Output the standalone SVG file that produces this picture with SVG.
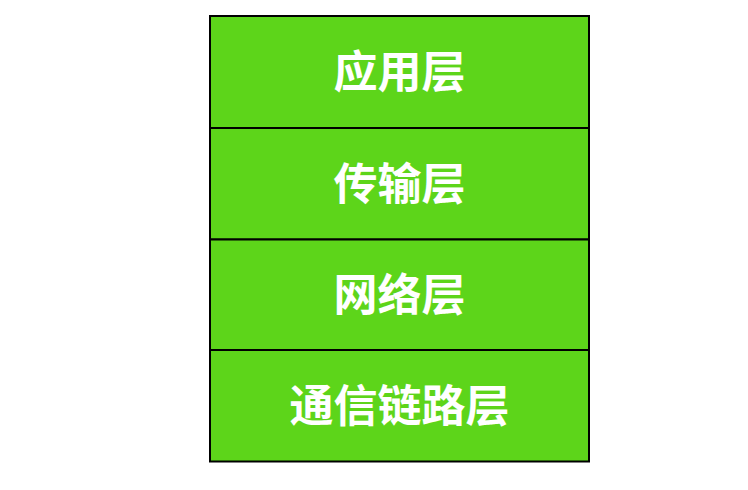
<svg xmlns="http://www.w3.org/2000/svg" width="748" height="490" viewBox="0 0 748 490">
<style>
.box{fill:#5dd51a;stroke:#000;stroke-width:2}
.lbl{font-family:"Noto Sans CJK SC","Noto Sans",sans-serif;font-weight:bold;font-size:44px;fill:#fff;text-anchor:middle;dominant-baseline:central}
</style>
<rect width="748" height="490" fill="#fff"/>
<g id="app"><rect class="box" x="210" y="16" width="379" height="112"/><text class="lbl" x="399.5" y="69">应用层</text></g>
<g id="transport"><rect class="box" x="210" y="128" width="379" height="111.5"/><text class="lbl" x="399.5" y="181">传输层</text></g>
<g id="network"><rect class="box" x="210" y="239.5" width="379" height="110.5"/><text class="lbl" x="399.5" y="292">网络层</text></g>
<g id="link"><rect class="box" x="210" y="350" width="379" height="111.5"/><text class="lbl" x="399.5" y="403">通信链路层</text></g>
</svg>
